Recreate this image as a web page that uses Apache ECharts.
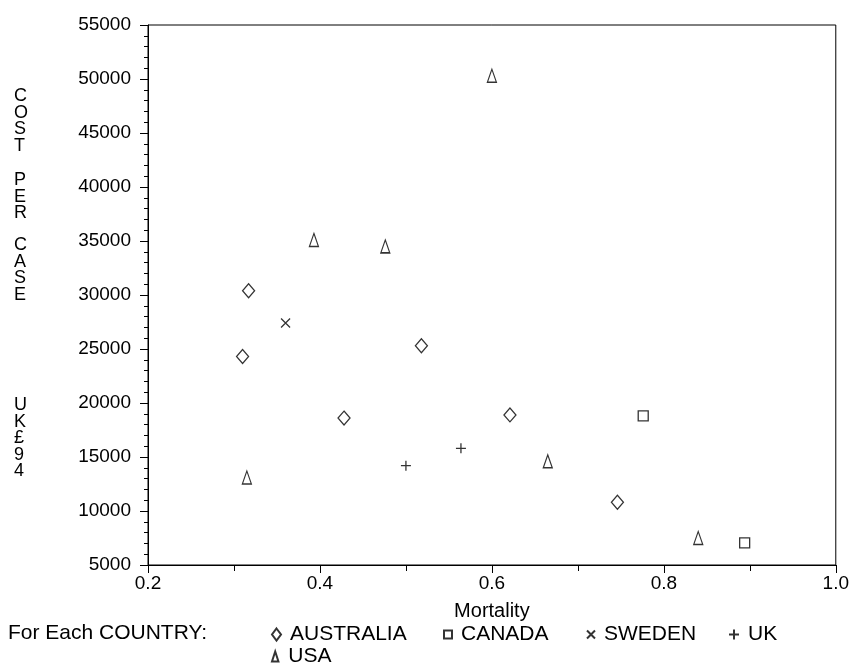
<!DOCTYPE html>
<html>
<head>
<meta charset="utf-8">
<script src="https://cdn.jsdelivr.net/npm/echarts@6/dist/echarts.min.js"></script>
<style>
html,body{margin:0;padding:0;background:#fff;}
#chart{width:852px;height:667px;}
</style>
</head>
<body>
<div id="chart"></div>
<script>
// ---- data ----
var australiaX = [0.310, 0.317, 0.428, 0.518, 0.621, 0.746];
var australiaY = [24300, 30400, 18600, 25300, 18900, 10800];
var canadaX = [0.776, 0.894];
var canadaY = [18800, 7050];
var swedenX = [0.360];
var swedenY = [27400];
var ukX = [0.500, 0.564];
var ukY = [14200, 15800];
var usaX = [0.315, 0.393, 0.476, 0.600, 0.665, 0.840];
var usaY = [13100, 35100, 34500, 50300, 14600, 7500];
var countries = ['AUSTRALIA', 'CANADA', 'SWEDEN', 'UK', 'USA'];
var xTicks = [0.2, 0.4, 0.6, 0.8, 1.0];
var yTicks = [5000, 10000, 15000, 20000, 25000, 30000, 35000, 40000, 45000, 50000, 55000];
var xTitle = 'Mortality';
var yTitleWords = ['COST', 'PER', 'CASE', 'UK£94'];
var legendLead = 'For Each COUNTRY:';

function pairs(xs, ys) { return xs.map(function (x, i) { return [x, ys[i]]; }); }

var FONT = 'Liberation Sans, Arial, Helvetica, sans-serif';
var FS = 19;
var LFS = 21;
var symbols = {
  AUSTRALIA: { symbol: 'diamond', size: [12, 14], legendSize: [9, 12] },
  CANADA: { symbol: 'rect', size: [10, 10], legendSize: [8, 8] },
  SWEDEN: { symbol: 'path://M0,0 L10,10 M10,0 L0,10', size: [9, 9], legendSize: [8, 8] },
  UK: { symbol: 'path://M5,0 L5,10 M0,5 L10,5', size: [10, 10], legendSize: [10, 10] },
  USA: { symbol: 'path://M4.5,0 L9,14 L0,14 Z', size: [9, 13], legendSize: [8, 10] }
};
var dataMap = {
  AUSTRALIA: pairs(australiaX, australiaY),
  CANADA: pairs(canadaX, canadaY),
  SWEDEN: pairs(swedenX, swedenY),
  UK: pairs(ukX, ukY),
  USA: pairs(usaX, usaY)
};
// legend item anchors (icon left edge, row top)
var legendPos = {
  AUSTRALIA: [271, 624],
  CANADA: [443, 624],
  SWEDEN: [586, 624],
  UK: [728, 624],
  USA: [271, 646]
};

var series = countries.map(function (c) {
  return {
    name: c,
    type: 'scatter',
    data: dataMap[c],
    symbol: symbols[c].symbol,
    symbolSize: symbols[c].size,
    itemStyle: { color: 'rgba(255,255,255,0)', borderColor: '#000', borderWidth: 1.3 },
    emphasis: { disabled: true }
  };
});

var legends = countries.map(function (c) {
  return {
    data: [{ name: c, icon: symbols[c].symbol }],
    left: legendPos[c][0], top: legendPos[c][1],
    itemWidth: symbols[c].legendSize[0], itemHeight: symbols[c].legendSize[1],
    itemGap: 0,
    textStyle: { fontFamily: FONT, fontSize: LFS, color: '#000', padding: [0, 0, 0, 4] },
    selectedMode: false,
    padding: 0
  };
});

var titleTops = [87, 171, 236, 396];
var titleGraphics = yTitleWords.map(function (w, i) {
  return { type: 'text', left: 14, top: titleTops[i],
    style: { text: w.split('').join('\n'), font: '18px ' + FONT, fill: '#000', lineHeight: 16.6, align: 'center' } };
});

var chart = echarts.init(document.getElementById('chart'), null, { renderer: 'canvas' });
chart.setOption({
  animation: false,
  backgroundColor: '#fff',
  textStyle: { fontFamily: FONT, color: '#000' },
  grid: { left: 148, right: 16, top: 25, bottom: 102, show: true, borderColor: '#000', borderWidth: 1, containLabel: false },
  xAxis: {
    type: 'value', min: 0.2, max: 1.0, interval: 0.2,
    name: xTitle, nameLocation: 'middle', nameGap: 36,
    nameTextStyle: { fontFamily: FONT, fontSize: 20, color: '#000' },
    axisLine: { lineStyle: { color: '#000', width: 1 } },
    axisTick: { show: true, length: 8, lineStyle: { color: '#000' } },
    minorTick: { show: true, splitNumber: 2, length: 6, lineStyle: { color: '#000' } },
    splitLine: { show: false },
    axisLabel: { fontFamily: FONT, fontSize: FS, color: '#000', margin: 9,
      formatter: function (v) { return v.toFixed(1); } }
  },
  yAxis: {
    type: 'value', min: 5000, max: 55000, interval: 5000,
    axisLine: { show: true, lineStyle: { color: '#000', width: 1 } },
    axisTick: { show: true, length: 8, lineStyle: { color: '#000' } },
    minorTick: { show: true, splitNumber: 5, length: 4, lineStyle: { color: '#000' } },
    splitLine: { show: false },
    axisLabel: { fontFamily: FONT, fontSize: FS, color: '#000', margin: 17,
      formatter: function (v) { return String(v); } }
  },
  legend: legends,
  graphic: [
    { type: 'text', left: 8, top: 623, style: { text: legendLead, font: LFS + 'px ' + FONT, fill: '#000' } }
  ].concat(titleGraphics),
  series: series
});
</script>
</body>
</html>
